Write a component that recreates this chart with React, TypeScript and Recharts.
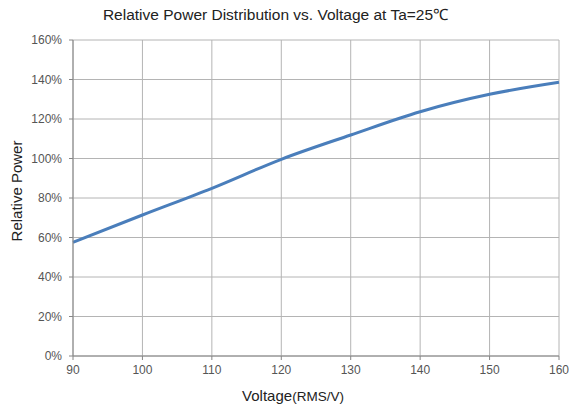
import React from 'react';
import { LineChart, Line, XAxis, YAxis, CartesianGrid, Label } from 'recharts';

const voltages = [90, 100, 110, 120, 130, 140, 150, 160];
const relativePower = [57.6, 71.4, 84.9, 99.6, 111.9, 123.7, 132.5, 138.6];
const xTicks = [90, 100, 110, 120, 130, 140, 150, 160];
const yTicks = [0, 20, 40, 60, 80, 100, 120, 140, 160];

const data = voltages.map((v, i) => ({ v, p: relativePower[i] }));

const FONT = '"Liberation Sans", Arial, sans-serif';

const XLabel = (props: any) => {
  const vb = props.viewBox || {};
  const cx = vb.x + vb.width / 2 - 23;
  const y = vb.y + 45;
  return (
    <text x={cx} y={y} textAnchor="middle" fill="#222" fontFamily={FONT}>
      <tspan fontSize={15}>Voltage</tspan>
      <tspan fontSize={13.5}>(RMS/V)</tspan>
    </text>
  );
};

const YLabel = (props: any) => {
  const vb = props.viewBox || {};
  const cx = 22;
  const cy = vb.y + vb.height / 2 - 7;
  return (
    <text x={cx} y={cy} textAnchor="middle" fill="#222" fontFamily={FONT} fontSize={15}
      transform={`rotate(-90, ${cx}, ${cy})`}>
      Relative Power
    </text>
  );
};

export default function App() {
  return (
    <div style={{ position: 'absolute', left: 0, top: 0, width: 569, height: 407, background: '#fff' }}>
      <div style={{ position: 'absolute', left: 0, top: 3, width: 551, textAlign: 'center', fontFamily: FONT, fontSize: 15.5, color: '#222' }}>
        Relative Power Distribution vs. Voltage at Ta=25℃
      </div>
      <LineChart width={569} height={407} data={data} margin={{ top: 40, right: 10, bottom: 0, left: 0 }}>
        <CartesianGrid stroke="#b4b4b4" strokeWidth={1} />
        <XAxis
          dataKey="v"
          type="number"
          domain={[90, 160]}
          ticks={xTicks}
          interval={0}
          height={51}
          stroke="#868686"
          tickSize={4}
          tickMargin={5}
          tick={{ fill: '#555', fontSize: 12, fontFamily: FONT }}
        >
          <Label content={<XLabel />} />
        </XAxis>
        <YAxis
          type="number"
          domain={[0, 160]}
          ticks={yTicks}
          interval={0}
          width={73}
          stroke="#868686"
          tickSize={4}
          tickMargin={7}
          tickFormatter={(v: number) => `${v}%`}
          tick={{ fill: '#555', fontSize: 12, fontFamily: FONT }}
        >
          <Label content={<YLabel />} />
        </YAxis>
        <Line
          type="monotone"
          dataKey="p"
          stroke="#4a7ebb"
          strokeWidth={3}
          dot={false}
          isAnimationActive={false}
        />
      </LineChart>
    </div>
  );
}
